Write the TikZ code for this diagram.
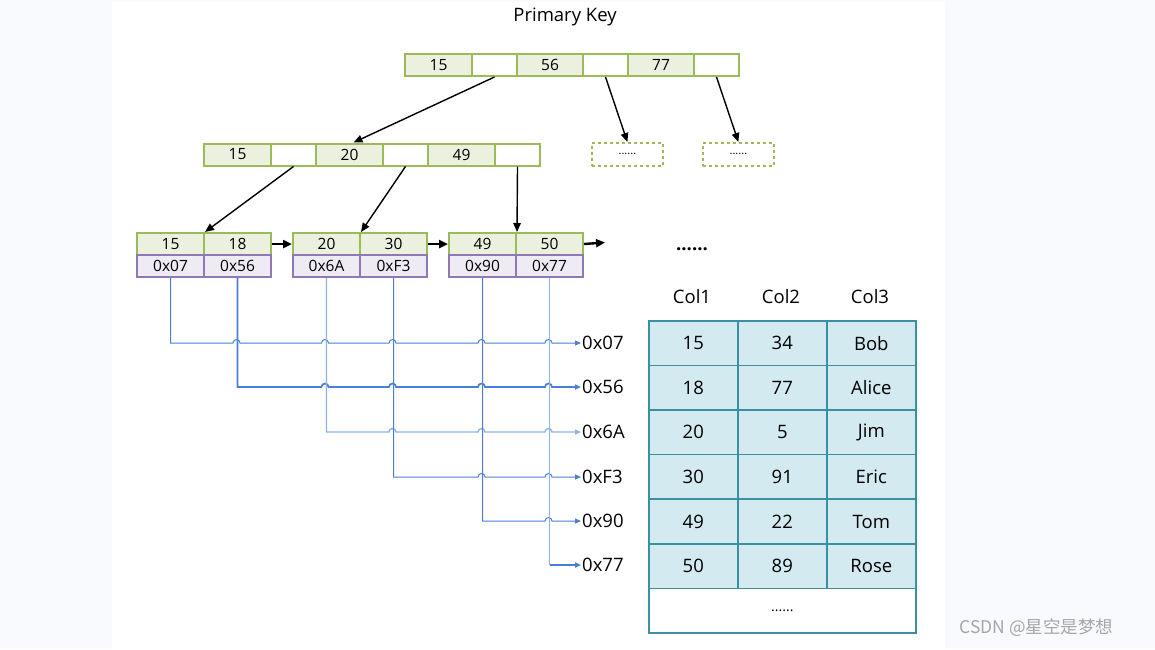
\documentclass[tikz,border=0pt]{standalone}
\usepackage{fontspec}
\setmainfont{Open Sans}
\newfontfamily\cjkfont{Noto Sans CJK SC}
\usetikzlibrary{arrows.meta,calc}
\definecolor{gbd}{HTML}{9BBB59}
\definecolor{gfl}{HTML}{EBF1DE}
\definecolor{pbd}{HTML}{8F78B3}
\definecolor{pfl}{HTML}{EFEBF5}
\definecolor{tbd}{HTML}{3A8FA3}
\definecolor{tfl}{HTML}{D3EAF0}
\definecolor{bln}{HTML}{4A7FD6}
\definecolor{blt}{HTML}{8DB3E8}
\definecolor{bgc}{HTML}{F9FAFE}
\begin{document}
\begin{tikzpicture}[x=1pt,y=-1pt,
  cell/.style={draw=gbd,line width=2pt,inner sep=0pt,anchor=north west,minimum height=22pt,font=\fontsize{15.5}{17}\selectfont},
  kc/.style={cell,fill=gfl,minimum width=#1},
  ec/.style={cell,fill=white,minimum width=#1},
  pc/.style={cell,draw=pbd,fill=pfl,minimum width=#1},
  dbox/.style={draw=gbd,dashed,line width=1.8pt,inner sep=0pt,anchor=north west,minimum width=71pt,minimum height=23pt,font=\fontsize{11}{12}\selectfont},
  tree/.style={black,line width=1.4pt,-{Triangle[length=9pt,width=7.5pt]}},
  link/.style={black,line width=2.4pt,-{Triangle[length=9pt,width=8pt]}},
  bl/.style={bln,line width=1pt,-{Triangle[length=6pt,width=5pt]}},
  lbl/.style={anchor=west,inner sep=1pt,font=\fontsize{18.5}{20}\selectfont},
  tc/.style={draw=tbd,fill=tfl,line width=1.6pt,inner sep=0pt,anchor=north west,minimum width=89pt,minimum height=44.6pt,font=\fontsize{18.5}{20}\selectfont},
  hd/.style={font=\fontsize{18.5}{20}\selectfont}]
\useasboundingbox (0,0) rectangle (1155,649);
\fill[bgc] (0,0) rectangle (1155,649);
\fill[white] (112,2) rectangle (945,649);

% title
\node[font=\fontsize{18.5}{20}\selectfont] (title) at (565,17) {Primary Key};

% root
\node[kc=67pt] (r1) at (404,53) {15};
\node[ec=45pt] (r2) at (471,53) {};
\node[kc=66pt] (r3) at (516,53) {56};
\node[ec=45pt] (r4) at (582,53) {};
\node[kc=66pt] (r5) at (627,53) {77};
\node[ec=45pt] (r6) at (693,53) {};

% dashed boxes
\node[dbox] (d1) at (591,142) {......};
\node[dbox] (d2) at (702,142) {......};

% level 2
\node[kc=67pt] (m1) at (203,142.5) {15};
\node[ec=45pt] (m2) at (270,142.5) {};
\node[kc=67pt] (m3) at (315,142.5) {20};
\node[ec=45pt] (m4) at (382,142.5) {};
\node[kc=67pt] (m5) at (427,142.5) {49};
\node[ec=45pt] (m6) at (494,142.5) {};

% leaves
\node[kc=67pt] (k1) at (136,232) {15};
\node[kc=67pt] (k2) at (203,232) {18};
\node[kc=67pt] (k3) at (292,232) {20};
\node[kc=67pt] (k4) at (359,232) {30};
\node[kc=67pt] (k5) at (448,232) {49};
\node[kc=67pt] (k6) at (515,232) {50};
\node[pc=67pt] (q1) at (136,254) {0x07};
\node[pc=67pt] (q2) at (203,254) {0x56};
\node[pc=67pt] (q3) at (292,254) {0x6A};
\node[pc=67pt] (q4) at (359,254) {0xF3};
\node[pc=67pt] (q5) at (448,254) {0x90};
\node[pc=67pt] (q6) at (515,254) {0x77};
\coordinate (lend) at (605,242.5);

% tree arrows
\draw[tree] (r2.south) -- ($(m3.north)+(4,0)$);
\draw[tree] (r4.south) -- (d1.north);
\draw[tree] (r6.south) -- (d2.north);
\draw[tree] (m2.south) -- (k1.north east);
\draw[tree] (m4.south) -- (k3.north east);
\draw[tree] (m6.south) -- (k5.north east);
\draw[link] (k2.east) -- (k3.west);
\draw[link] (k4.east) -- (k5.west);
\draw[link] (k6.east) -- (lend);

% address labels
\node[lbl] (a1) at (581,343) {0x07};
\node[lbl] (a2) at (581,387) {0x56};
\node[lbl] (a3) at (581,432) {0x6A};
\node[lbl] (a4) at (581,477) {0xF3};
\node[lbl] (a5) at (581,521) {0x90};
\node[lbl] (a6) at (581,565) {0x77};

% pointer lines with hops
\draw[bl] (q1.south) -- (q1.south |- a1.west)
  \foreach \h in {236.5,325,392.5,481.5,548.5}{ -- (\h-3.5,343) arc[start angle=180,end angle=360,radius=3.5] } -- (a1.west);
\draw[bl,line width=1.7pt] (q2.south) -- (q2.south |- a2.west)
  \foreach \h in {325,392.5,481.5,548.5}{ -- (\h-3.5,387) arc[start angle=180,end angle=360,radius=3.5] } -- (a2.west);
\draw[bl,blt,line width=1.4pt] (q3.south) -- (q3.south |- a3.west)
  \foreach \h in {392.5,481.5,548.5}{ -- (\h-3.5,432) arc[start angle=180,end angle=360,radius=3.5] } -- (a3.west);
\draw[bl] (q4.south) -- (q4.south |- a4.west)
  \foreach \h in {481.5,548.5}{ -- (\h-3.5,477) arc[start angle=180,end angle=360,radius=3.5] } -- (a4.west);
\draw[bl] (q5.south) -- (q5.south |- a5.west)
  \foreach \h in {548.5}{ -- (\h-3.5,521) arc[start angle=180,end angle=360,radius=3.5] } -- (a5.west);
\draw[blt,line width=1.4pt] (q6.south) -- (q6.south |- a6.west);
\draw[bl,line width=1.7pt] (q6.south |- a6.west) -- (a6.west);

% table
\node[font=\fontsize{18.5}{20}\selectfont\bfseries] (dots) at (692,249) {......};
\node[hd] (h1) at (692,297) {Col1};
\node[hd] (h2) at (781,297) {Col2};
\node[hd] (h3) at (870,297) {Col3};
\foreach \a/\b/\c [count=\i] in {15/34/Bob,18/77/Alice,20/5/Jim,30/91/Eric,49/22/Tom,50/89/Rose}{
  \pgfmathsetmacro{\yy}{320+(\i-1)*44.6}
  \node[tc] (t\i-1) at (648,\yy) {\a};
  \node[tc] (t\i-2) at (737,\yy) {\b};
  \node[tc] (t\i-3) at (826,\yy) {\c};
}
\node[tc,fill=white,minimum width=267pt,font=\fontsize{14}{16}\selectfont] (t7) at (648,587.6) {......};

% watermark
\node[anchor=west,text=black!35,font=\fontsize{17.5}{19}\selectfont\cjkfont] (wm) at (956,628) {CSDN @星空是梦想};
\end{tikzpicture}
\end{document}
